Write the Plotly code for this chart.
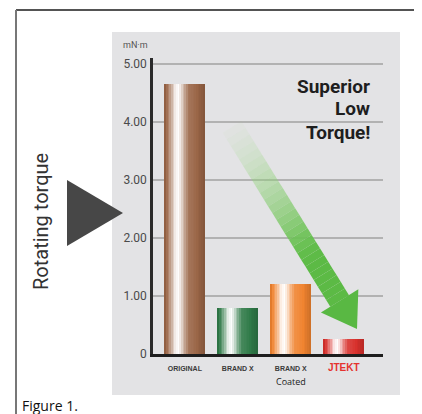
import math
import plotly.graph_objects as go

# ---------------- data ----------------
categories = ["ORIGINAL", "BRAND X", "BRAND X Coated", "JTEKT"]
torque = [4.65, 0.79, 1.21, 0.25]          # mN·m
bar_colors = ["#9a6546", "#2f7a48", "#f0832f", "#d8302c"]
y_ticks = [0, 1, 2, 3, 4, 5]
y_tick_labels = ["0", "1.00", "2.00", "3.00", "4.00", "5.00"]
x_tick_labels = [
    "<b>ORIGINAL</b>",
    "<b>BRAND X</b>",
    "<b>BRAND X</b>",
    "<span style='font-size:10px;color:#e5322f'><b>JTEKT</b></span>",
]
slogan_lines = ["Superior", "Low", "Torque!"]

# ---------------- layout geometry (window pixels) ----------------
OFF = 8                      # default page body margin
W, H = 422, 414
AX_L, AX_R, AX_T, AX_B = 153, 383, 58, 354   # plot area in window pixels
ML = AX_L - OFF
MT = AX_T - OFF
MR = W - (AX_R - OFF)
MB = H - (AX_B - OFF)
PW, PH = AX_R - AX_L, AX_B - AX_T


def px(x):
    return (x - AX_L) / PW


def py(y):
    return (AX_B - y) / PH


def hex2rgb(h):
    h = h.lstrip("#")
    return tuple(int(h[i:i + 2], 16) for i in (0, 2, 4))


def shade(h, f):
    r, g, b = hex2rgb(h)
    if f >= 0:
        r, g, b = [c + (255 - c) * f for c in (r, g, b)]
    else:
        r, g, b = [c * (1 + f) for c in (r, g, b)]
    return "rgb(%d,%d,%d)" % (r, g, b)


# cylinder-like horizontal shading profile (t across bar, white mix amount)
stops = [(0.0, -0.12), (0.12, 0.25), (0.28, 0.9), (0.36, 1.0), (0.46, 0.6),
         (0.6, 0.12), (0.8, 0.02), (1.0, -0.15)]


def profile(t):
    for (t0, f0), (t1, f1) in zip(stops[:-1], stops[1:]):
        if t0 <= t <= t1:
            return f0 + (f1 - f0) * (t - t0) / (t1 - t0)
    return stops[-1][1]


xpos = list(range(len(categories)))
bar_w = 0.76
N = 24
strip = bar_w / N

fig = go.Figure()
for i in range(N):
    t = (i + 0.5) / N
    fig.add_trace(go.Bar(
        x=xpos, y=torque,
        width=strip * 1.08,
        offset=-bar_w / 2 + i * strip,
        marker=dict(color=[shade(c, profile(t)) for c in bar_colors], line=dict(width=0)),
        hoverinfo="skip", showlegend=False,
    ))

shapes = []
# outer frame
shapes.append(dict(type="line", xref="paper", yref="paper", x0=px(16), x1=px(422), y0=py(10), y1=py(10),
                   line=dict(color="#1a1a1a", width=1.5), layer="below"))
shapes.append(dict(type="line", xref="paper", yref="paper", x0=px(16), x1=px(16), y0=py(10), y1=py(420),
                   line=dict(color="#777777", width=2), layer="below"))
# grey panel
shapes.append(dict(type="rect", xref="paper", yref="paper", x0=px(112), x1=px(400), y0=py(395), y1=py(32),
                   fillcolor="#e3e3e5", line=dict(width=0), layer="below"))
# pointer triangle
shapes.append(dict(type="path", xref="paper", yref="paper",
                   path="M %f,%f L %f,%f L %f,%f Z" % (px(67), py(180), px(67), py(246), px(123), py(213)),
                   fillcolor="#474747", line=dict(width=0), layer="above"))

# green gradient arrow
sx, sy = 232, 127
tx, ty = 357, 329
L = math.hypot(tx - sx, ty - sy)
ux, uy = (tx - sx) / L, (ty - sy) / L
nx, ny = -uy, ux
hl, hw, sw = 33, 22, 11
bx, by = tx - ux * hl, ty - uy * hl
seg = 26
c0 = hex2rgb("#b6e3a0")
c1 = hex2rgb("#5cba45")
for k in range(seg):
    a0 = k / seg
    a1 = (k + 1) / seg
    p0 = (sx + (bx - sx) * a0, sy + (by - sy) * a0)
    p1 = (sx + (bx - sx) * a1, sy + (by - sy) * a1)
    tm = (a0 + a1) / 2
    alpha = min(1.0, 0.03 + tm * 1.4)
    col = [int(c0[j] + (c1[j] - c0[j]) * min(1, tm * 1.3)) for j in range(3)]
    pts = [(p0[0] + nx * sw, p0[1] + ny * sw), (p1[0] + nx * sw, p1[1] + ny * sw),
           (p1[0] - nx * sw, p1[1] - ny * sw), (p0[0] - nx * sw, p0[1] - ny * sw)]
    path = "M " + " L ".join("%f,%f" % (px(a), py(b)) for a, b in pts) + " Z"
    shapes.append(dict(type="path", xref="paper", yref="paper", path=path,
                       fillcolor="rgba(%d,%d,%d,%.3f)" % (col[0], col[1], col[2], alpha),
                       line=dict(width=0), layer="above"))
head = [(bx + nx * hw, by + ny * hw), (tx, ty), (bx - nx * hw, by - ny * hw)]
shapes.append(dict(type="path", xref="paper", yref="paper",
                   path="M " + " L ".join("%f,%f" % (px(a), py(b)) for a, b in head) + " Z",
                   fillcolor="#59b843", line=dict(width=0), layer="above"))

cond = "Roboto, Liberation Sans, sans-serif"
annotations = [
    dict(text="Rotating torque", xref="paper", yref="paper", x=px(41), y=py(222), textangle=-90,
         xanchor="center", yanchor="middle",
         showarrow=False, font=dict(family=cond, size=20, color="#333333")),
    dict(text="mN·m", xref="paper", yref="paper", x=px(121), y=py(45), xanchor="left", yanchor="middle",
         showarrow=False, font=dict(family=cond, size=9, color="#555555")),
    dict(text="Coated", xref="x", yref="paper", x=2, y=py(381), xanchor="center", yanchor="middle",
         showarrow=False, font=dict(family="Open Sans, Noto Sans, sans-serif", size=9, color="#222222")),
    dict(text="Figure 1.", xref="paper", yref="paper", x=px(21), y=py(395), xanchor="left", yanchor="top",
         borderpad=0,
         showarrow=False, font=dict(family="Open Sans, Noto Sans, sans-serif", size=14, color="#111111")),
]
for line, yc in zip(slogan_lines, [86, 109, 132]):
    annotations.append(dict(text="<b>%s</b>" % line, xref="paper", yref="paper", x=px(371), y=py(yc),
                            xanchor="right", yanchor="middle", borderpad=0,
                            showarrow=False, font=dict(family=cond, size=19, color="#1e1e1e")))

fig.update_layout(
    width=W, height=H,
    margin=dict(l=ML, r=MR, t=MT, b=MB, pad=0),
    paper_bgcolor="white", plot_bgcolor="rgba(0,0,0,0)",
    barmode="overlay", bargap=0,
    shapes=shapes, annotations=annotations,
    showlegend=False,
    xaxis=dict(range=[-0.6, 3.74], tickvals=xpos, ticktext=x_tick_labels,
               showline=True, linecolor="#1e1e1e", linewidth=2.5, showgrid=False, zeroline=False,
               ticks="outside", ticklen=6, tickcolor="rgba(0,0,0,0)",
               tickfont=dict(family="Liberation Sans, Arial, sans-serif", size=7, color="#3a3a3a"),
               fixedrange=True),
    yaxis=dict(range=[0, 5.1], tickvals=y_ticks, ticktext=y_tick_labels,
               showline=True, linecolor="#2a2a2a", linewidth=2.5, showgrid=True,
               gridcolor="#b2b2b2", gridwidth=2, zeroline=False, ticks="",
               ticklabelstandoff=1,
               tickfont=dict(family=cond, size=12, color="#4a4a4a"), fixedrange=True),
)

fig.write_html("out.html")
